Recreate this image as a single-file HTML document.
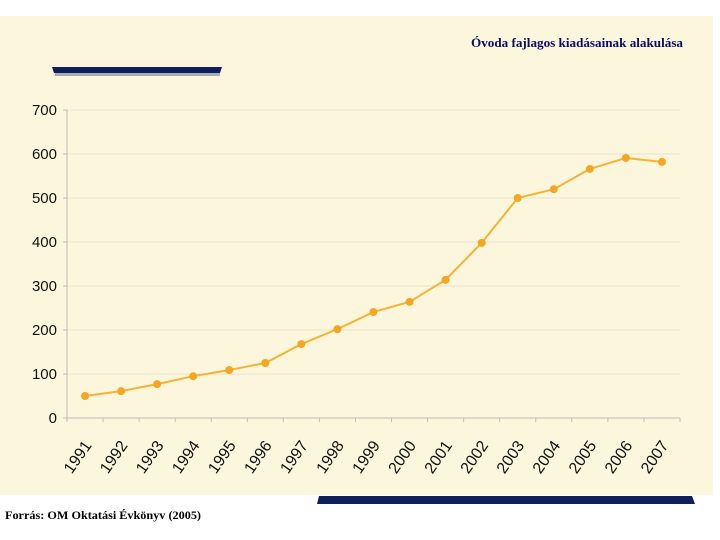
<!DOCTYPE html>
<html><head><meta charset="utf-8"><style>
body{margin:0;width:720px;height:540px;background:#fff;overflow:hidden;position:relative;font-family:"Liberation Sans",sans-serif}
</style></head><body>
<div style="position:absolute;left:0;top:16px;width:713px;height:479px;background:#fcf7dc"></div>
<svg width="720" height="540" style="position:absolute;left:0;top:0">
<polygon points="52,67 222,67 220,73 54,73" fill="#0f1f5c"/>
<rect x="55" y="73" width="165" height="3" fill="#a8acb8"/>
<polygon points="319,496 692,496 695,504 317,504" fill="#0f1f5c"/>
<text x="683" y="47" text-anchor="end" font-family="Liberation Serif,serif" font-size="13" font-weight="bold" textLength="212" lengthAdjust="spacingAndGlyphs" fill="#0a0a6a">Óvoda fajlagos kiadásainak alakulása</text>
<text x="5" y="519" font-family="Liberation Serif,serif" font-size="12" font-weight="bold" textLength="196" lengthAdjust="spacingAndGlyphs" fill="#000">Forrás: OM Oktatási Évkönyv (2005)</text>
<g id="g"></g>
</svg>
<script>
const years=["1991","1992","1993","1994","1995","1996","1997","1998","1999","2000","2001","2002","2003","2004","2005","2006","2007"];
const values=[50,61,77,95,109,125,168,202,241,264,314,398,500,520,566,591,582];
const yTicks=[0,100,200,300,400,500,600,700];
const NS="http://www.w3.org/2000/svg";
const g=document.getElementById('g');
const x0=67,x1=680,y0=418,y1=110,ymax=700;
const step=(x1-x0)/years.length;
const X=i=>x0+step*(i+0.5);
const Y=v=>y0-(v/ymax)*(y0-y1);
function mk(t,a){const e=document.createElementNS(NS,t);for(const k in a)e.setAttribute(k,a[k]);g.appendChild(e);return e;}
yTicks.forEach(v=>{
 const l=mk('line',{x1:x0,x2:x1,y1:Y(v),y2:Y(v),stroke:v===0?'#bbb':'#e6e2cc','stroke-width':1});
 
 
 const tk=mk('line',{x1:x0-4,x2:x0,y1:Y(v),y2:Y(v),stroke:'#bbb'});
 
 
 const t=mk('text',{x:57,y:Y(v)+5,'text-anchor':'end','font-size':15,fill:'#111'});
 t.textContent=v;
 
 
});
const ax=mk('line',{x1:x0,x2:x0,y1:y1,y2:y0,stroke:'#bbb'});


for(let i=0;i<=years.length;i++){
 const t=mk('line',{x1:x0+step*i,x2:x0+step*i,y1:y0,y2:y0+4,stroke:'#bbb'});
 
 
}
years.forEach((yr,i)=>{
 const cx=X(i)-2,cy=439;
 const t=mk('text',{x:cx,y:cy,'text-anchor':'end','font-size':16,fill:'#111',transform:`rotate(-55 ${cx} ${cy})`,dy:'0.7em'});
 t.textContent=yr;
 
 
});
const line=mk('polyline',{points:values.map((v,i)=>X(i)+','+Y(v)).join(' '),fill:'none',stroke:'#f7b234','stroke-width':2});


values.forEach((v,i)=>{
 const c=mk('circle',{cx:X(i),cy:Y(v),r:4,fill:'#f5a623'});
 
 
});
</script>
</body></html>
